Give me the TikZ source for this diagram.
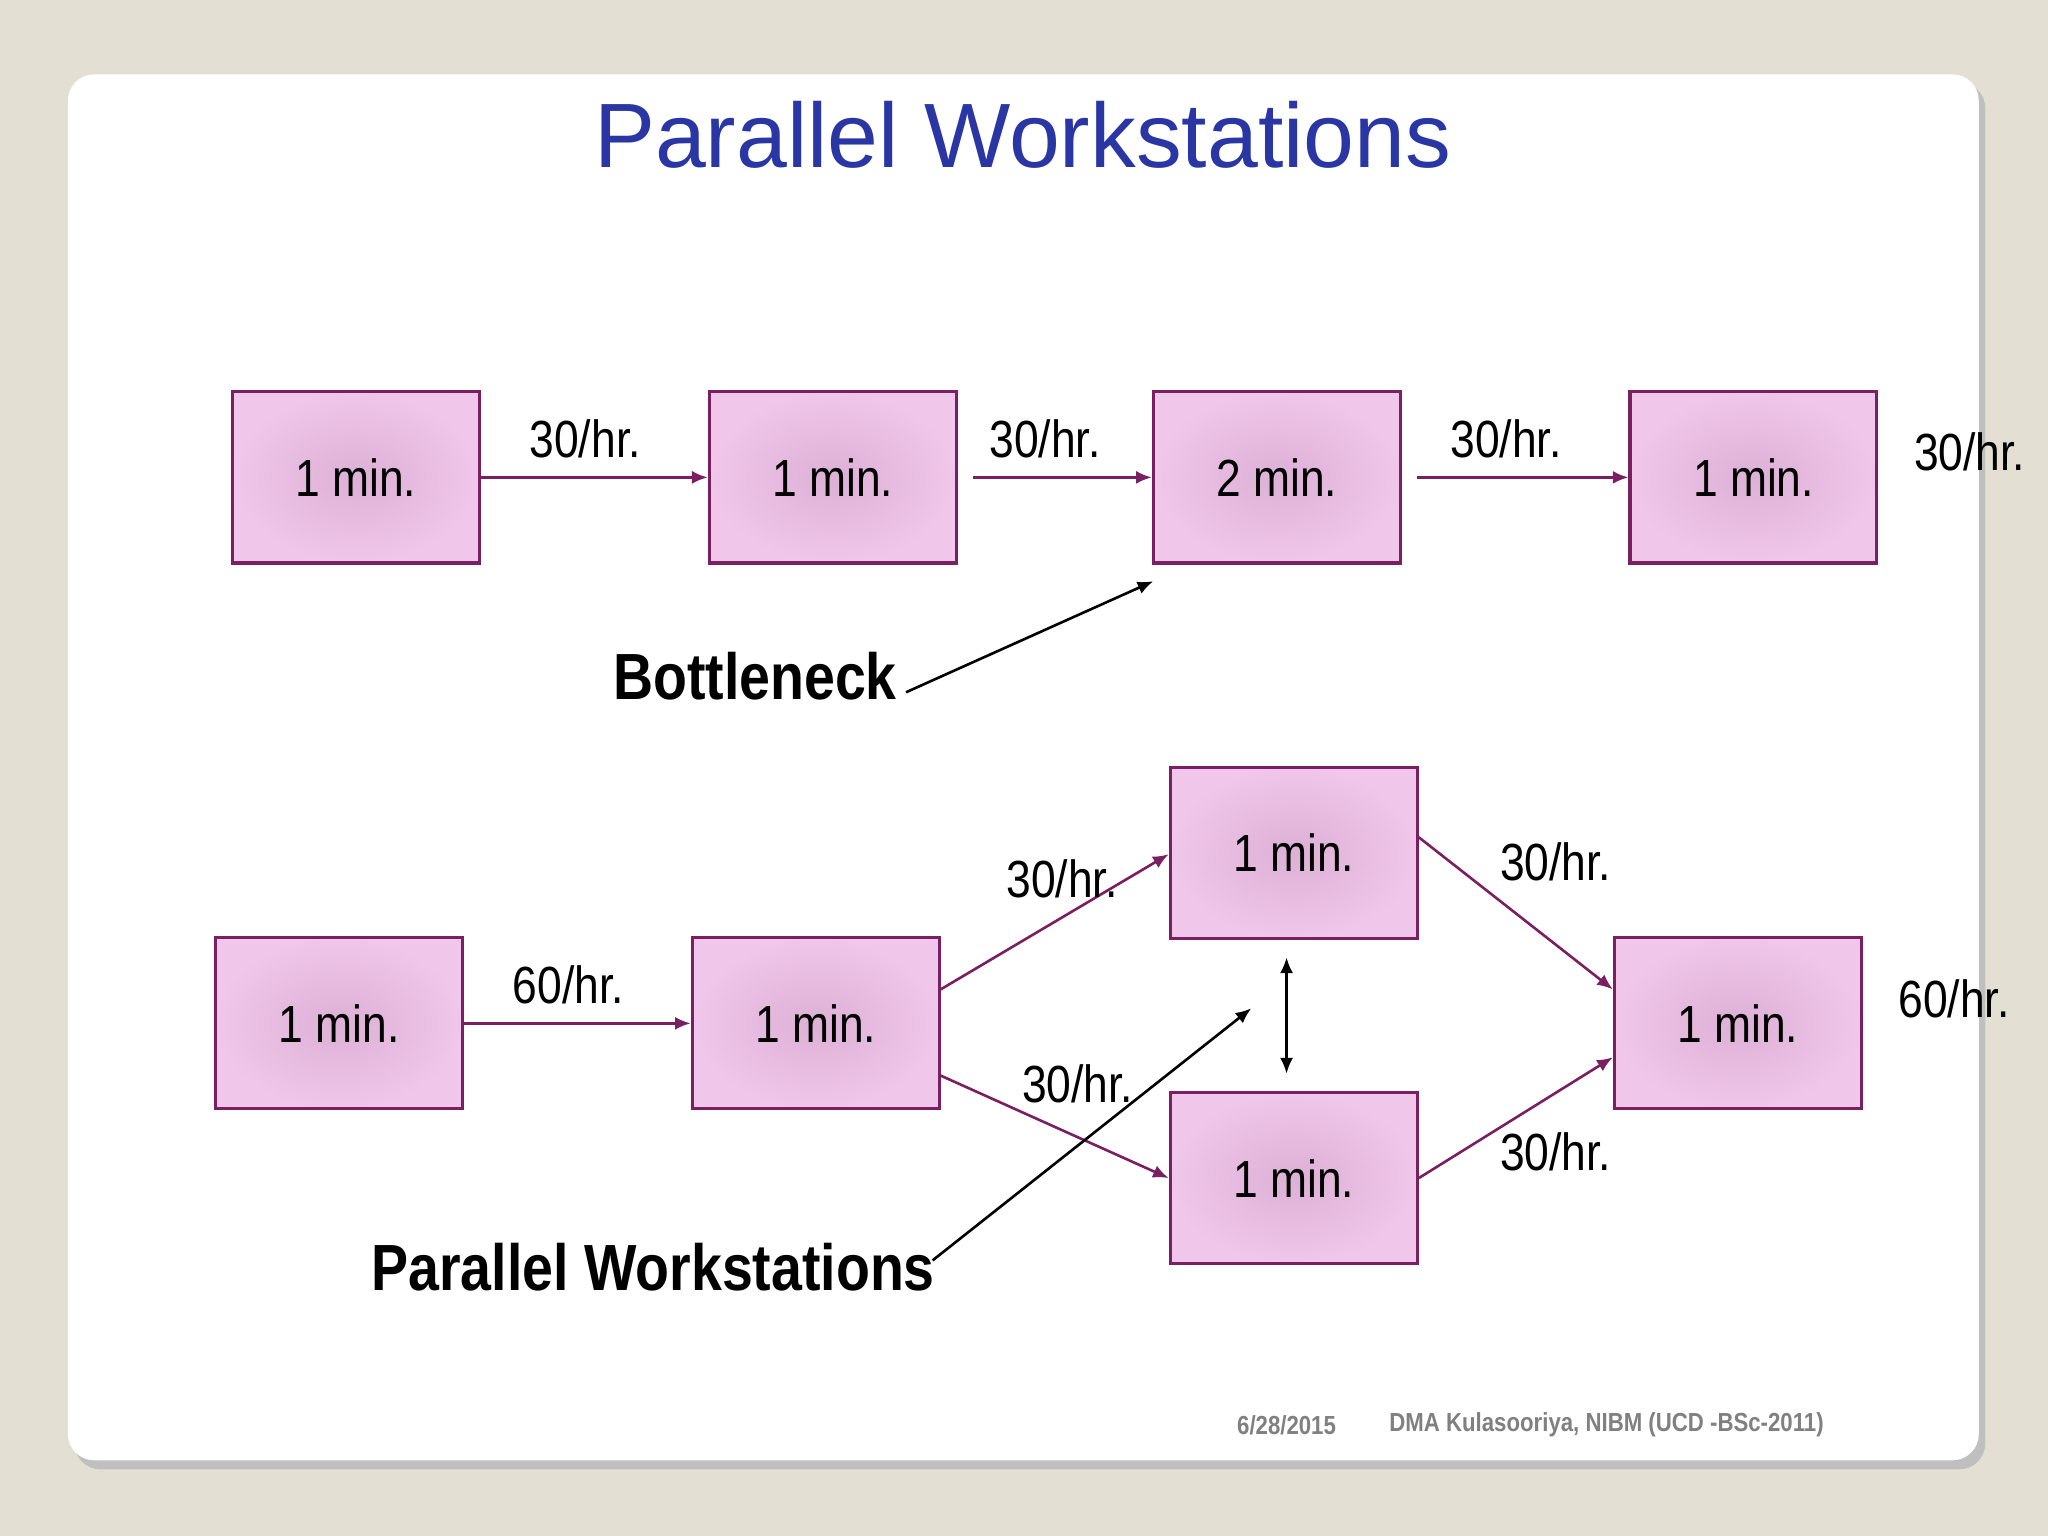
\documentclass[tikz,border=0pt]{standalone}
\usepackage{fontspec}
\setmainfont{Liberation Sans}
\newfontfamily\narrowfont[FakeStretch=0.85]{Liberation Sans}
\usetikzlibrary{arrows.meta,shadows}
\definecolor{bg}{HTML}{E3E0D3}
\definecolor{ttl}{HTML}{2A36A3}
\definecolor{bord}{HTML}{7A1F62}
\definecolor{pinkout}{HTML}{F0C6EA}
\definecolor{pinkin}{HTML}{DDB0D6}
\tikzset{
 wbox/.style={draw=bord,line width=1.2pt,minimum width=94.5pt,minimum height=65.5pt,inner sep=0pt,
   shading=radial,inner color=pinkin,outer color=pinkout,font=\narrowfont\fontsize{20}{22}\selectfont},
 flow/.style={draw=bord,line width=1pt,-{Latex[length=6pt,width=5pt]}},
 blk/.style={draw=black,line width=1pt,-{Latex[length=6pt,width=5pt]}},
 rate/.style={font=\narrowfont\fontsize{20}{22}\selectfont},
 big/.style={font=\narrowfont\bfseries\fontsize{25}{28}\selectfont},
}
\begin{document}
\begin{tikzpicture}[x=0.5pt,y=-0.5pt]
\fill[bg] (0,0) rectangle (1568,1176);
\useasboundingbox (0,0) rectangle (1568,1176);
\fill[black!25,rounded corners=10pt] (57,63) rectangle (1520,1125);
\fill[white,rounded corners=10pt] (52,57) rectangle (1515,1118);
\node[text=ttl,font=\fontsize{35}{40}\selectfont] (title) at (783,103) {Parallel Workstations};
% top row
\node[wbox] (t1) at (272.5,365.5) {1 min.};
\node[wbox] (t2) at (637.5,365.5) {1 min.};
\node[wbox] (t3) at (977.5,365.5) {2 min.};
\node[wbox] (t4) at (1342.5,365.5) {1 min.};
\draw[flow] (t1.east) -- (t2.west);
\draw[flow] ([xshift=6pt]t2.east) -- (t3.west);
\draw[flow] ([xshift=6pt]t3.east) -- (t4.west);
\node[rate] (r1) at (448,336) {30/hr.};
\node[rate] (r2) at (800,336) {30/hr.};
\node[rate] (r3) at (1153,336) {30/hr.};
\node[rate] (r4) at (1508,346) {30/hr.};
\node[big] (bn) at (578,518) {Bottleneck};
\coordinate (bnA) at (883,445);
\draw[blk] (bn.east) ++(0,-6pt) -- (bnA);
% bottom
\node[wbox] (a) at (259.5,783.5) {1 min.};
\node[wbox] (b) at (624.5,783.5) {1 min.};
\node[wbox] (c) at (990.5,653) {1 min.};
\node[wbox] (d) at (990.5,902) {1 min.};
\node[wbox] (e) at (1330.5,783.5) {1 min.};
\draw[flow] (a.east) -- (b.west);
\draw[flow] ([yshift=13pt]b.east) -- ([yshift=-0.5pt]c.west);
\draw[flow] ([yshift=-20pt]b.east) -- (d.west);
\draw[flow] ([yshift=6pt]c.east) -- ([yshift=13pt]e.west);
\draw[flow] (d.east) -- ([yshift=-13pt]e.west);
\node[rate] (s1) at (435,754) {60/hr.};
\node[rate] (s2) at (813,673) {30/hr.};
\node[rate] (s3) at (825,830) {30/hr.};
\node[rate] (s4) at (1191,660) {30/hr.};
\node[rate] (s5) at (1191,882) {30/hr.};
\node[rate] (s6) at (1496,765) {60/hr.};
\coordinate (v1) at (985,733);
\coordinate (v2) at (985,822);
\draw[blk,{Latex[length=6pt,width=5pt]}-{Latex[length=6pt,width=5pt]}] (v1) -- (v2);
\node[big] (pw) at (500,970) {Parallel Workstations};
\coordinate (pwA) at (958,772);
\draw[blk] (714,965) -- (pwA);
\node[text=black!50,font=\narrowfont\bfseries\fontsize{10}{12}\selectfont] (f1) at (985,1091) {6/28/2015};
\node[text=black!50,font=\narrowfont\bfseries\fontsize{10}{12}\selectfont] (f2) at (1230,1091) {DMA Kulasooriya, NIBM (UCD -BSc-2011)};
\end{tikzpicture}
\end{document}
